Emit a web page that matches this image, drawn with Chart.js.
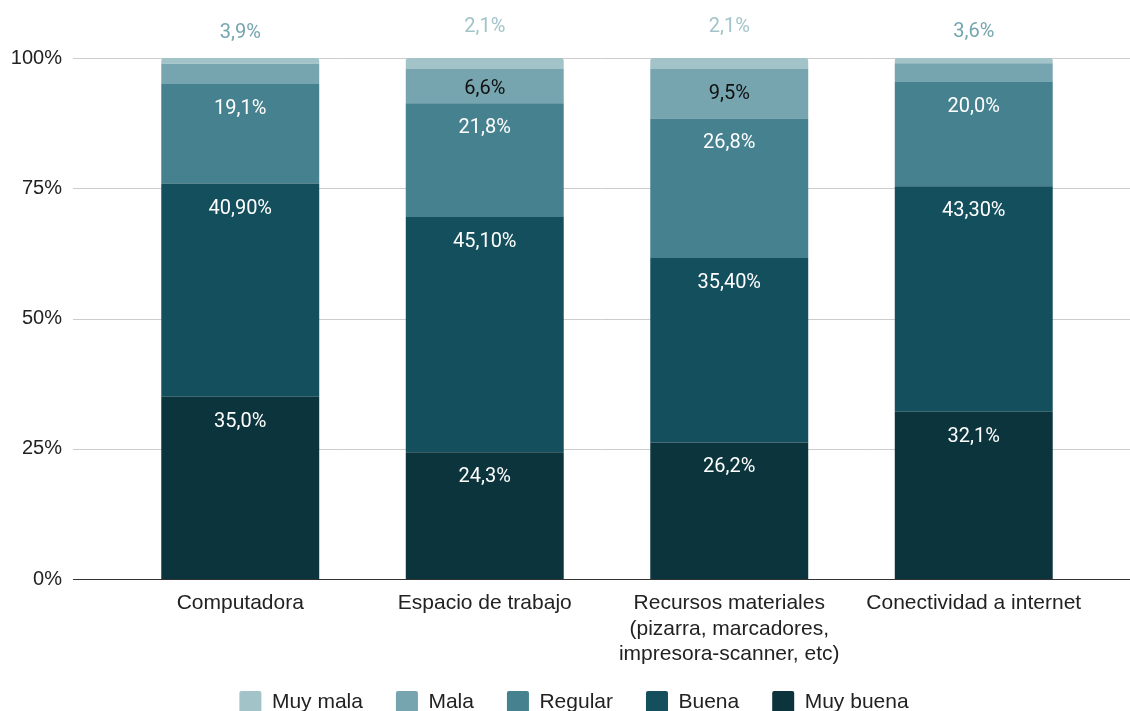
<!DOCTYPE html>
<html>
<head>
<meta charset="utf-8">
<script src="https://cdn.jsdelivr.net/npm/chart.js@4/dist/chart.umd.min.js"></script>
<style>
  html, body { margin: 0; padding: 0; background: #fff; overflow: hidden; }
  canvas { display: block; }
</style>
</head>
<body>
<canvas id="chart" width="1130" height="734"></canvas>
<script>
// data
const categorias = [
  'Computadora',
  'Espacio de trabajo',
  ['Recursos materiales', '(pizarra, marcadores,', 'impresora-scanner, etc)'],
  'Conectividad a internet'
]
const muyBuena = [35.0, 24.3, 26.2, 32.1]
const buena = [40.9, 45.1, 35.4, 43.3]
const regular = [19.1, 21.8, 26.8, 20.0]
const mala = [3.9, 6.6, 9.5, 3.6]
const muyMala = [1.1, 2.1, 2.1, 1.0]
const yTicks = [0, 25, 50, 75, 100]

// series, bottom of the stack first
const series = [
  { label: 'Muy buena', values: muyBuena, color: '#0c343d', text: '#ffffff', dec: 1 },
  { label: 'Buena', values: buena, color: '#134f5c', text: '#ffffff', dec: 2 },
  { label: 'Regular', values: regular, color: '#45818e', text: '#ffffff', dec: 1 },
  { label: 'Mala', values: mala, color: '#76a5af', text: '#111111', dec: 1 },
  { label: 'Muy mala', values: muyMala, color: '#a2c4c9', text: '#111111', dec: 1 }
]

// 100% stacked: normalise each column
const totals = categorias.map((c, j) => series.reduce((s, d) => s + d.values[j], 0))

const axisFont = { family: "'Liberation Sans', Arial, sans-serif", size: 21 }

const fmt = (v, dec) => v.toFixed(dec).replace('.', ',') + '%'

// gridlines wider than the plot area
const gridPlugin = {
  id: 'wideGrid',
  afterLayout(chart) {
    // legend sits a bit right of the canvas centre and tucked under the labels
    const l = chart.legend
    l.left += 26
    l.right += 26
    l.top -= 11
    l.bottom -= 11
  },
  beforeDatasetsDraw(chart) {
    const { ctx } = chart
    const y = chart.scales.y
    ctx.save()
    yTicks.forEach(t => {
      if (t === 0) return
      const py = Math.round(y.getPixelForValue(t)) + 0.5
      ctx.strokeStyle = '#cccccc'
      ctx.lineWidth = 1
      ctx.beginPath()
      ctx.moveTo(73, py)
      ctx.lineTo(1130, py)
      ctx.stroke()
    })
    ctx.restore()
  },
  afterDatasetsDraw(chart) {
    const { ctx } = chart
    const py = Math.round(chart.scales.y.getPixelForValue(0)) + 0.5
    ctx.save()
    ctx.strokeStyle = '#333333'
    ctx.lineWidth = 1.2
    ctx.beginPath()
    ctx.moveTo(73, py)
    ctx.lineTo(1130, py)
    ctx.stroke()
    ctx.restore()
  }
}

// value labels
const labelPlugin = {
  id: 'segLabels',
  afterDatasetsDraw(chart) {
    const { ctx } = chart
    ctx.save()
    ctx.font = "20px Roboto, 'Liberation Sans', sans-serif"
    ctx.textAlign = 'center'
    ctx.textBaseline = 'middle'
    categorias.forEach((c, j) => {
      let small = null
      series.forEach((s, i) => {
        const bar = chart.getDatasetMeta(i).data[j]
        const top = bar.y
        const h = bar.base - bar.y
        if (h < 26) {
          if (!small || s.values[j] > small.v) small = { v: s.values[j], top, s, x: bar.x }
          return
        }
        ctx.fillStyle = s.text
        const cy = Math.min(top + 25, top + h / 2 + 3)
        ctx.fillText(fmt(s.values[j], s.dec), bar.x, cy)
      })
      if (small) {
        ctx.fillStyle = small.s.color
        ctx.fillText(fmt(small.v, small.s.dec), small.x, small.top - 31)
      }
    })
    ctx.restore()
  }
}

const chart = new Chart(document.getElementById('chart'), {
  type: 'bar',
  data: {
    labels: categorias,
    datasets: series.map(s => ({
      label: s.label,
      data: s.values.map((v, j) => v / totals[j] * 100),
      backgroundColor: s.color,
      borderWidth: 0,
      borderRadius: 3,
      categoryPercentage: 1,
      barPercentage: 0.646
    }))
  },
  options: {
    responsive: false,
    animation: false,
    devicePixelRatio: 1,
    layout: { padding: { top: 58, left: 0, right: 34, bottom: 0 } },
    plugins: {
      tooltip: { enabled: false },
      legend: {
        position: 'bottom',
        reverse: true,
        labels: {
          color: '#222222',
          font: axisFont,
          boxWidth: 22,
          boxHeight: 22,
          padding: 33,
          useBorderRadius: true,
          borderRadius: 2
        }
      }
    },
    scales: {
      x: {
        stacked: true,
        grid: { display: false, drawTicks: false },
        border: { display: false },
        ticks: {
          color: '#222222',
          font: axisFont,
          padding: 12,
          maxRotation: 0,
          autoSkip: false
        },
        afterFit(scale) { scale.height = 90 }
      },
      y: {
        stacked: true,
        min: 0,
        max: 100,
        grid: { display: false, drawTicks: false },
        border: { display: false },
        ticks: {
          stepSize: 25,
          color: '#222222',
          font: { family: "'Liberation Sans', Arial, sans-serif", size: 20 },
          padding: 56,
          callback: v => v + '%'
        },
        afterFit(scale) {
          scale.width = 118
          scale.paddingTop = 12
          scale.paddingBottom = 12
        }
      }
    }
  },
  plugins: [gridPlugin, labelPlugin]
})
</script>
</body>
</html>
